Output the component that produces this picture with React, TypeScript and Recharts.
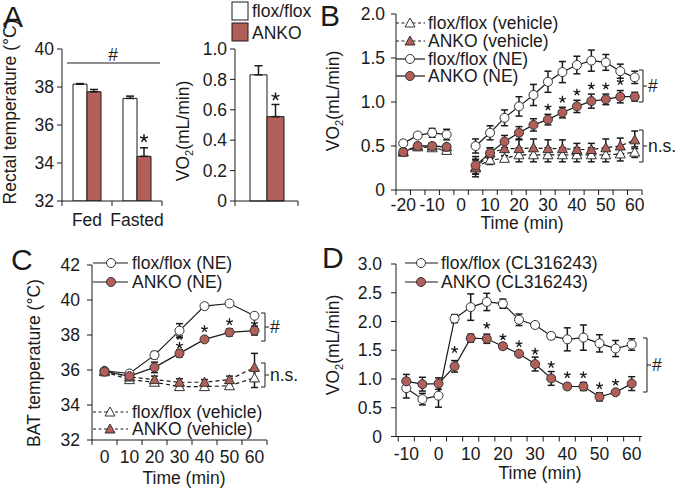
import React from 'react'
import { BarChart, Bar, ComposedChart, Line, Scatter, XAxis, YAxis, ErrorBar, LabelList } from 'recharts'

const INK = '#1a1a1a'
const RED = '#b35f59'
const FONT = '"Liberation Sans", Arial, Helvetica, sans-serif'
const FS = 17.5

// A: rectal temperature
const conditions = ['Fed', 'Fasted']
const rectalFlox = [38.15, 37.4]
const rectalFloxErr = [0.03, 0.12]
const rectalAnko = [37.75, 34.35]
const rectalAnkoErr = [0.12, 0.45]
const rectalSig = [false, true]
const rectalTicks = [32, 34, 36, 38, 40]

// A: VO2
const vo2Flox = [0.83]
const vo2FloxErr = [0.06]
const vo2Anko = [0.555]
const vo2AnkoErr = [0.08]
const vo2Sig = [true]
const vo2Ticks = [0, 0.2, 0.4, 0.6, 0.8, 1.0]

// B: VO2 after NE / vehicle
const timesB = [-20, -15, -10, -5, 0, 5, 10, 15, 20, 25, 30, 35, 40, 45, 50, 55, 60]
const floxVehB = [0.44, 0.49, 0.48, 0.45, null, 0.26, 0.34, 0.36, 0.4, 0.4, 0.4, 0.4, 0.4, 0.4, 0.4, 0.41, 0.43]
const floxVehErrB = [0.03, 0.03, 0.03, 0.04, null, 0.08, 0.05, 0.03, 0.08, 0.08, 0.08, 0.08, 0.08, 0.08, 0.08, 0.08, 0.06]
const ankoVehB = [0.43, 0.5, 0.5, 0.49, null, 0.25, 0.42, 0.47, 0.47, 0.48, 0.47, 0.47, 0.46, 0.46, 0.48, 0.5, 0.57]
const ankoVehErrB = [0.03, 0.03, 0.03, 0.03, null, 0.1, 0.06, 0.08, 0.1, 0.1, 0.1, 0.1, 0.07, 0.07, 0.1, 0.09, 0.1]
const floxNEB = [0.53, 0.62, 0.65, 0.63, null, 0.5, 0.65, 0.82, 0.95, 1.08, 1.23, 1.34, 1.42, 1.47, 1.45, 1.35, 1.28]
const floxNEErrB = [0.02, 0.03, 0.05, 0.06, null, 0.08, 0.08, 0.09, 0.11, 0.12, 0.12, 0.12, 0.1, 0.12, 0.09, 0.08, 0.07]
const ankoNEB = [0.43, 0.5, 0.5, 0.49, null, 0.28, 0.42, 0.55, 0.65, 0.74, 0.8, 0.88, 0.95, 1.01, 1.03, 1.06, 1.06]
const ankoNEErrB = [0.03, 0.03, 0.03, 0.03, null, 0.1, 0.06, 0.07, 0.07, 0.07, 0.06, 0.06, 0.07, 0.08, 0.06, 0.07, 0.05]
const starTimesB = [30, 35, 40, 45, 50, 55]
const starLevelsB = [0.94, 1.03, 1.11, 1.18, 1.18, 1.23]
const xTicksB = [-20, -15, -10, -5, 0, 5, 10, 15, 20, 25, 30, 35, 40, 45, 50, 55, 60]
const yTicksB = [0, 0.5, 1.0, 1.5, 2.0]

// C: BAT temperature
const timesC = [0, 10, 20, 30, 40, 50, 60]
const floxNEC = [35.95, 35.8, 36.85, 38.25, 39.65, 39.8, 39.1]
const floxNEErrC = [0.15, 0.08, 0.2, 0.4, 0.15, 0.08, 0.1]
const ankoNEC = [35.9, 35.65, 36.15, 36.95, 37.75, 38.15, 38.25]
const ankoNEErrC = [0.15, 0.1, 0.3, 0.2, 0.15, 0.2, 0.25]
const floxVehC = [35.9, 35.45, 35.3, 35.05, 35.05, 35.1, 35.55]
const floxVehErrC = [0.1, 0.15, 0.15, 0.1, 0.1, 0.15, 0.55]
const ankoVehC = [35.95, 35.6, 35.45, 35.3, 35.3, 35.45, 36.15]
const ankoVehErrC = [0.1, 0.1, 0.2, 0.2, 0.15, 0.2, 0.8]
const starTimesC = [30, 30, 40, 50, 60]
const starLevelsC = [37.9, 37.4, 38.35, 38.75, 38.65]
const yTicksC = [32, 34, 36, 38, 40, 42]

// D: VO2 after CL316243
const timesD = [-10, -5, 0, 5, 10, 15, 20, 25, 30, 35, 40, 45, 50, 55, 60]
const floxCL = [0.84, 0.65, 0.71, 2.05, 2.25, 2.34, 2.31, 2.03, 1.94, 1.75, 1.69, 1.72, 1.62, 1.53, 1.6]
const floxCLErr = [0.17, 0.1, 0.2, 0.07, 0.23, 0.15, 0.08, 0.1, 0.03, 0.05, 0.2, 0.22, 0.15, 0.14, 0.1]
const ankoCL = [0.96, 0.91, 0.92, 1.22, 1.71, 1.7, 1.57, 1.44, 1.26, 1.01, 0.87, 0.87, 0.69, 0.77, 0.92]
const ankoCLErr = [0.12, 0.12, 0.1, 0.1, 0.07, 0.08, 0.05, 0.03, 0.12, 0.12, 0.05, 0.07, 0.07, 0.03, 0.12]
const starTimesD = [5, 15, 20, 25, 30, 35, 40, 45, 50, 55]
const starLevelsD = [1.51, 1.93, 1.73, 1.61, 1.48, 1.25, 1.07, 1.07, 0.88, 0.94]
const yTicksD = [0, 0.5, 1.0, 1.5, 2.0, 2.5, 3.0]

const rectalRows = conditions.map((c, i) => ({
  cond: c,
  flox: rectalFlox[i],
  floxErr: [0, rectalFloxErr[i]],
  anko: rectalAnko[i],
  ankoErr: [0, rectalAnkoErr[i]],
  star: rectalSig[i] ? '*' : '',
}))
const vo2Rows = vo2Flox.map((v, i) => ({
  cond: 'VO2',
  flox: v,
  floxErr: [0, vo2FloxErr[i]],
  anko: vo2Anko[i],
  ankoErr: [0, vo2AnkoErr[i]],
  star: vo2Sig[i] ? '*' : '',
}))
const rowsB = timesB.map((t, i) => ({
  t,
  floxVeh: floxVehB[i], floxVehErr: floxVehErrB[i],
  ankoVeh: ankoVehB[i], ankoVehErr: ankoVehErrB[i],
  floxNE: floxNEB[i], floxNEErr: floxNEErrB[i],
  ankoNE: ankoNEB[i], ankoNEErr: ankoNEErrB[i],
}))
const rowsC = timesC.map((t, i) => ({
  t,
  floxVeh: floxVehC[i], floxVehErr: floxVehErrC[i],
  ankoVeh: ankoVehC[i], ankoVehErr: ankoVehErrC[i],
  floxNE: floxNEC[i], floxNEErr: floxNEErrC[i],
  ankoNE: ankoNEC[i], ankoNEErr: ankoNEErrC[i],
}))
const rowsD = timesD.map((t, i) => ({
  t, flox: floxCL[i], floxErr: floxCLErr[i], anko: ankoCL[i], ankoErr: ankoCLErr[i],
}))
const starsB = starTimesB.map((t, i) => ({ t, y: starLevelsB[i] }))
const starsC = starTimesC.map((t, i) => ({ t, y: starLevelsC[i] }))
const starsD = starTimesD.map((t, i) => ({ t, y: starLevelsD[i] }))

const tickStyle = { fontSize: FS, fill: INK, fontFamily: FONT }
const fmt1 = (v: number) => (v === 0 ? '0' : v.toFixed(1))
const tens = (v: number) => (v % 10 === 0 ? String(v) : '')

// x tick: marks sit on category edges like the original, labels on the centres
function EdgeTick(props: any) {
  const { x, y, payload, index, visibleTicksCount, half, gap, show } = props
  const txt = show ? show(payload.value) : ''
  return (
    <g>
      <line x1={x - half} x2={x - half} y1={y} y2={y + 5} stroke={INK} />
      {index === visibleTicksCount - 1 && (
        <line x1={x + half} x2={x + half} y1={y} y2={y + 5} stroke={INK} />
      )}
      {txt !== '' && (
        <text x={x} y={y + gap} textAnchor="middle" fontSize={FS} fontFamily={FONT} fill={INK}>
          {txt}
        </text>
      )}
    </g>
  )
}

// small five-spoke asterisk drawn as a path
function asteriskPath(cx: number, cy: number, r: number) {
  let d = ''
  for (let k = 0; k < 5; k++) {
    const a = (-90 + k * 72) * (Math.PI / 180)
    d += `M${cx},${cy} L${cx + r * Math.cos(a)},${cy + r * Math.sin(a)} `
  }
  return d
}

function Star(p: any) {
  if (p.cx == null || p.cy == null) return <g />
  return <path d={asteriskPath(p.cx, p.cy, 3.6)} stroke={INK} strokeWidth={1.3} fill="none" />
}

const barStar = (lift: number) => (p: any) => {
  if (!p.value) return null
  return <path d={asteriskPath(p.x + p.width / 2, p.y - lift, 4.2)} stroke={INK} strokeWidth={1.5} fill="none" />
}

function Tri({ cx, cy, filled }: { cx: number; cy: number; filled: boolean }) {
  return (
    <polygon
      points={`${cx},${cy - 5} ${cx - 5},${cy + 4} ${cx + 5},${cy + 4}`}
      fill={filled ? RED : '#fff'}
      stroke="#333"
      strokeWidth={1}
    />
  )
}
const triDot = (filled: boolean) => (p: any) => {
  if (p.cx == null || p.cy == null || p.value == null) return <g key={p.index} />
  return <Tri key={p.index} cx={p.cx} cy={p.cy} filled={filled} />
}
const openDot = { r: 4.5, fill: '#fff', stroke: '#333', strokeWidth: 1 }
const fullDot = { r: 4.5, fill: RED, stroke: '#333', strokeWidth: 1 }

function LegendRow({ x1, x2, mx, y, dashed, marker, filled, text, tx }: any) {
  return (
    <g>
      <line x1={x1} x2={x2} y1={y} y2={y} stroke={INK} strokeWidth={1.2} strokeDasharray={dashed ? '3 2.5' : undefined} />
      {marker === 'tri' ? (
        <Tri cx={mx} cy={y} filled={filled} />
      ) : (
        <circle cx={mx} cy={y} r={4.5} fill={filled ? RED : '#fff'} stroke="#333" />
      )}
      <text x={tx} y={y + 6} fontSize={FS} fontFamily={FONT} fill={INK}>
        {text}
      </text>
    </g>
  )
}

function VTitle({ x, y, children }: any) {
  return (
    <text transform={`translate(${x},${y}) rotate(-90)`} textAnchor="middle" fontSize={FS} fontFamily={FONT} fill={INK}>
      {children}
    </text>
  )
}

const vo2Title = [
  'VO',
  <tspan key="s" fontSize={11} dy={4}>2</tspan>,
  <tspan key="r" dy={-4}>(mL/min)</tspan>,
]

function Bracket({ x, y1, y2, label }: any) {
  const m = (y1 + y2) / 2
  return (
    <g>
      <path d={`M${x - 4},${y1} H${x} V${y2} H${x - 4} M${x},${m} H${x + 4}`} fill="none" stroke={INK} />
      <text x={x + 5} y={m + 6} fontSize={FS} fontFamily={FONT} fill={INK}>
        {label}
      </text>
    </g>
  )
}

export default function App() {
  return (
    <div style={{ position: 'absolute', left: 0, top: 0, width: 678, height: 488, background: '#fff', fontFamily: FONT }}>
      {/* A: rectal temperature */}
      <div style={{ position: 'absolute', left: 0, top: 0 }}>
        <BarChart width={170} height={240} data={rectalRows} barSize={14} barGap={0} margin={{ top: 49, right: 8, bottom: 9, left: 0 }}>
          <XAxis dataKey="cond" height={30} interval={0} tickLine={false} tickSize={0} tickMargin={0} stroke={INK}
            tick={<EdgeTick half={25} gap={25} show={(v: string) => v} />} />
          <YAxis domain={[32, 40]} ticks={rectalTicks} width={62} tickSize={5} tickMargin={3} stroke={INK} tick={tickStyle} allowDataOverflow />
          <Bar dataKey="flox" fill="#fff" stroke={INK} isAnimationActive={false}>
            <ErrorBar dataKey="floxErr" width={4} stroke={INK} direction="y" />
          </Bar>
          <Bar dataKey="anko" fill={RED} stroke={INK} isAnimationActive={false}>
            <ErrorBar dataKey="ankoErr" width={4} stroke={INK} direction="y" />
            <LabelList dataKey="star" content={barStar(18)} />
          </Bar>
        </BarChart>
      </div>

      {/* A: VO2 */}
      <div style={{ position: 'absolute', left: 175, top: 0 }}>
        <BarChart width={130} height={240} data={vo2Rows} barSize={17} barGap={0} margin={{ top: 49, right: 7, bottom: 9, left: 0 }}>
          <XAxis dataKey="cond" height={30} interval={0} tickLine={false} tickSize={0} tickMargin={0} stroke={INK}
            tick={<EdgeTick half={31.5} gap={25} />} />
          <YAxis domain={[0, 1]} ticks={vo2Ticks} width={60} tickSize={5} tickMargin={3} stroke={INK} tick={tickStyle} tickFormatter={fmt1} />
          <Bar dataKey="flox" fill="#fff" stroke={INK} isAnimationActive={false}>
            <ErrorBar dataKey="floxErr" width={4} stroke={INK} direction="y" />
          </Bar>
          <Bar dataKey="anko" fill={RED} stroke={INK} isAnimationActive={false}>
            <ErrorBar dataKey="ankoErr" width={4} stroke={INK} direction="y" />
            <LabelList dataKey="star" content={barStar(20)} />
          </Bar>
        </BarChart>
      </div>

      {/* B */}
      <div style={{ position: 'absolute', left: 330, top: 0 }}>
        <ComposedChart width={348} height={240} data={rowsB} margin={{ top: 14, right: 36, bottom: 20, left: 0 }}>
          <XAxis type="number" dataKey="t" domain={[-22.5, 62.5]} ticks={xTicksB} interval={0} height={30}
            tickLine={false} tickSize={0} tickMargin={0} stroke={INK} allowDataOverflow
            tick={<EdgeTick half={7.24} gap={21} show={tens} />} />
          <YAxis domain={[0, 2]} ticks={yTicksB} width={66} tickSize={5} tickMargin={6} stroke={INK} tick={tickStyle} tickFormatter={fmt1} />
          <Line dataKey="floxVeh" stroke={INK} strokeWidth={1.2} strokeDasharray="4 3" dot={triDot(false)} isAnimationActive={false}>
            <ErrorBar dataKey="floxVehErr" width={3.5} stroke={INK} direction="y" />
          </Line>
          <Line dataKey="ankoVeh" stroke={INK} strokeWidth={1.2} strokeDasharray="4 3" dot={triDot(true)} isAnimationActive={false}>
            <ErrorBar dataKey="ankoVehErr" width={3.5} stroke={INK} direction="y" />
          </Line>
          <Line dataKey="floxNE" stroke={INK} strokeWidth={1.2} dot={openDot} isAnimationActive={false}>
            <ErrorBar dataKey="floxNEErr" width={3.5} stroke={INK} direction="y" />
          </Line>
          <Line dataKey="ankoNE" stroke={INK} strokeWidth={1.2} dot={fullDot} isAnimationActive={false}>
            <ErrorBar dataKey="ankoNEErr" width={3.5} stroke={INK} direction="y" />
          </Line>
          <Scatter data={starsB} dataKey="y" fill={INK} shape={Star} isAnimationActive={false} />
        </ComposedChart>
      </div>

      {/* C */}
      <div style={{ position: 'absolute', left: 0, top: 240 }}>
        <ComposedChart width={340} height={248} data={rowsC} margin={{ top: 25, right: 73, bottom: 18, left: 0 }}>
          <XAxis type="number" dataKey="t" domain={[-5, 65]} ticks={timesC} interval={0} height={30}
            tickLine={false} tickSize={0} tickMargin={0} stroke={INK} allowDataOverflow
            tick={<EdgeTick half={12.5} gap={23} show={tens} />} />
          <YAxis domain={[32, 42]} ticks={yTicksC} width={92} tickSize={5} tickMargin={7} stroke={INK} tick={tickStyle} />
          <Line dataKey="floxVeh" stroke={INK} strokeWidth={1.2} strokeDasharray="4 3" dot={triDot(false)} isAnimationActive={false}>
            <ErrorBar dataKey="floxVehErr" width={3.5} stroke={INK} direction="y" />
          </Line>
          <Line dataKey="ankoVeh" stroke={INK} strokeWidth={1.2} strokeDasharray="4 3" dot={triDot(true)} isAnimationActive={false}>
            <ErrorBar dataKey="ankoVehErr" width={3.5} stroke={INK} direction="y" />
          </Line>
          <Line dataKey="floxNE" stroke={INK} strokeWidth={1.2} dot={openDot} isAnimationActive={false}>
            <ErrorBar dataKey="floxNEErr" width={3.5} stroke={INK} direction="y" />
          </Line>
          <Line dataKey="ankoNE" stroke={INK} strokeWidth={1.2} dot={fullDot} isAnimationActive={false}>
            <ErrorBar dataKey="ankoNEErr" width={3.5} stroke={INK} direction="y" />
          </Line>
          <Scatter data={starsC} dataKey="y" fill={INK} shape={Star} isAnimationActive={false} />
        </ComposedChart>
      </div>

      {/* D */}
      <div style={{ position: 'absolute', left: 330, top: 240 }}>
        <ComposedChart width={348} height={248} data={rowsD} margin={{ top: 24, right: 36, bottom: 21.5, left: 0 }}>
          <XAxis type="number" dataKey="t" domain={[-13.2, 63.2]} ticks={timesD} interval={0} height={30}
            tickLine={false} tickSize={0} tickMargin={0} stroke={INK} allowDataOverflow
            tick={<EdgeTick half={8.05} gap={23} show={tens} />} />
          <YAxis domain={[0, 3]} ticks={yTicksD} width={66} tickSize={5} tickMargin={9} stroke={INK} tick={tickStyle} tickFormatter={fmt1} />
          <Line dataKey="flox" stroke={INK} strokeWidth={1.2} dot={openDot} isAnimationActive={false}>
            <ErrorBar dataKey="floxErr" width={3.5} stroke={INK} direction="y" />
          </Line>
          <Line dataKey="anko" stroke={INK} strokeWidth={1.2} dot={fullDot} isAnimationActive={false}>
            <ErrorBar dataKey="ankoErr" width={3.5} stroke={INK} direction="y" />
          </Line>
          <Scatter data={starsD} dataKey="y" fill={INK} shape={Star} isAnimationActive={false} />
        </ComposedChart>
      </div>

      {/* annotations: letters, titles, legends, brackets */}
      <svg width={678} height={488} style={{ position: 'absolute', left: 0, top: 0, pointerEvents: 'none' }}>
        <g fontFamily={FONT} fill={INK}>
          <text x={3} y={27} fontSize={30}>A</text>
          <text x={320} y={26} fontSize={30}>B</text>
          <text x={11} y={270} fontSize={30}>C</text>
          <text x={322} y={268} fontSize={30}>D</text>
        </g>

        <VTitle x={16} y={112}>Rectal temperature (°C)</VTitle>
        <VTitle x={189} y={131}>{vo2Title}</VTitle>
        <VTitle x={339} y={101}>{vo2Title}</VTitle>
        <VTitle x={40} y={363}>BAT temperature (°C)</VTitle>
        <VTitle x={339} y={345}>{vo2Title}</VTitle>

        <g fontFamily={FONT} fontSize={FS} fill={INK} textAnchor="middle">
          <text x={522} y={229}>Time (min)</text>
          <text x={184} y={484}>Time (min)</text>
          <text x={540} y={479}>Time (min)</text>
        </g>

        {/* A: significance line and legend */}
        <line x1={67} x2={160} y1={63} y2={63} stroke={INK} />
        <text x={113} y={61} textAnchor="middle" fontSize={FS} fontFamily={FONT} fill={INK}>#</text>
        <rect x={232} y={2} width={16} height={18} fill="#fff" stroke={INK} />
        <rect x={232} y={23} width={16} height={18} fill={RED} stroke={INK} />
        <text x={252} y={17} fontSize={FS} fontFamily={FONT} fill={INK}>flox/flox</text>
        <text x={252} y={39} fontSize={FS} fontFamily={FONT} fill={INK}>ANKO</text>

        {/* B legend */}
        <LegendRow x1={396} x2={425} mx={410} y={23} dashed marker="tri" filled={false} text="flox/flox (vehicle)" tx={428} />
        <LegendRow x1={396} x2={425} mx={410} y={41} dashed marker="tri" filled text="ANKO (vehicle)" tx={428} />
        <LegendRow x1={396} x2={425} mx={410} y={59} marker="circle" filled={false} text="flox/flox (NE)" tx={428} />
        <LegendRow x1={396} x2={425} mx={410} y={76} marker="circle" filled text="ANKO (NE)" tx={428} />
        <Bracket x={643} y1={70} y2={102} label="#" />
        <Bracket x={643} y1={130} y2={162} label="n.s." />

        {/* C legend */}
        <LegendRow x1={93} x2={128} mx={111} y={263} marker="circle" filled={false} text="flox/flox (NE)" tx={132} />
        <LegendRow x1={93} x2={128} mx={111} y={282} marker="circle" filled text="ANKO (NE)" tx={132} />
        <LegendRow x1={93} x2={128} mx={110} y={412} dashed marker="tri" filled={false} text="flox/flox (vehicle)" tx={132} />
        <LegendRow x1={93} x2={128} mx={110} y={429} dashed marker="tri" filled text="ANKO (vehicle)" tx={132} />
        <Bracket x={265} y1={313} y2={341} label="#" />
        <Bracket x={265} y1={363} y2={387} label="n.s." />

        {/* D legend */}
        <LegendRow x1={405} x2={438} mx={421} y={263} marker="circle" filled={false} text="flox/flox (CL316243)" tx={441} />
        <LegendRow x1={405} x2={438} mx={421} y={282} marker="circle" filled text="ANKO (CL316243)" tx={441} />
        <Bracket x={647} y1={338} y2={392} label="#" />
      </svg>
    </div>
  )
}
